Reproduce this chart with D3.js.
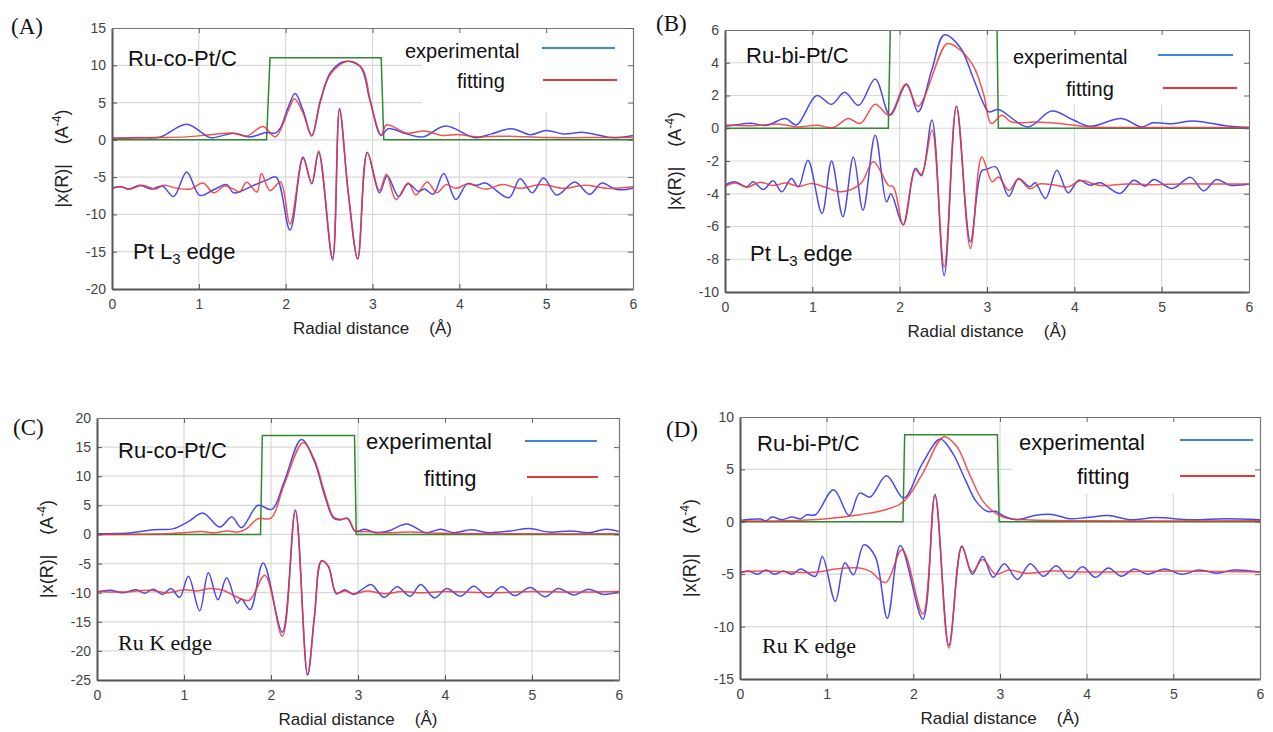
<!DOCTYPE html>
<html>
<head>
<meta charset="utf-8">
<script src="https://cdn.jsdelivr.net/npm/d3@7"></script>
<style>
  body { margin: 0; background: #fff; }
  svg { display: block; }
  text { font-family: "Liberation Sans", Arial, sans-serif; }
</style>
</head>
<body>
<svg id="chart" width="1273" height="732"></svg>
<script>
  // ---- shared ticks ----
  const xTicks = [0, 1, 2, 3, 4, 5, 6];
  const aYTicks = [15, 10, 5, 0, -5, -10, -15, -20];
  const bYTicks = [6, 4, 2, 0, -2, -4, -6, -8, -10];
  const cYTicks = [20, 15, 10, 5, 0, -5, -10, -15, -20, -25];
  const dYTicks = [10, 5, 0, -5, -10, -15];

  // ---- (A) Ru-co-Pt/C, Pt L3 edge ----  [R (Å), |χ(R)|]
  const aUpperExp = [[0,0.2],[0.3,0.3],[0.55,0.35],[0.86,2.1],[1.13,0.3],[1.25,0.5],[1.4,0.9],[1.59,0.4],[1.78,1.0],[1.88,0.9],[1.94,1.6],[2.03,4.4],[2.11,6.2],[2.2,3.95],[2.3,0.6],[2.4,5.3],[2.52,9.1],[2.68,10.5],[2.86,9.8],[2.97,5.3],[3.1,0.6],[3.18,1.5],[3.39,0.8],[3.58,0.4],[3.84,1.85],[4.18,0.3],[4.37,0.8],[4.6,1.5],[4.82,0.7],[5.0,1.27],[5.2,0.8],[5.43,1.0],[5.77,0.3],[6.0,0.6]];
  const aUpperFit = [[0,0.2],[0.5,0.3],[0.86,0.4],[1.13,0.7],[1.4,0.9],[1.55,0.5],[1.74,1.8],[1.88,0.4],[2.03,3.9],[2.1,5.5],[2.2,3.6],[2.3,0.5],[2.4,5.1],[2.52,8.9],[2.72,10.55],[2.88,9.6],[2.98,5.0],[3.1,0.6],[3.16,2.0],[3.4,0.9],[3.6,1.2],[3.8,0.6],[4.0,0.7],[4.2,0.4],[4.5,0.5],[5.0,0.3],[5.5,0.3],[6.0,0.3]];
  const aLowerExp = [[0,-6.5],[0.1,-6.3],[0.2,-6.6],[0.32,-6.1],[0.45,-6.6],[0.58,-6.2],[0.71,-7.6],[0.86,-4.3],[1.01,-7.45],[1.17,-6.7],[1.32,-6.0],[1.4,-7.1],[1.63,-6.1],[1.78,-5.4],[1.89,-5.0],[2.05,-12.1],[2.2,-2.3],[2.3,-5.9],[2.38,-1.7],[2.54,-16.1],[2.62,4.2],[2.72,-7],[2.83,-15.9],[2.94,-1.7],[3.08,-7.1],[3.17,-4.8],[3.3,-7.6],[3.41,-5.9],[3.53,-6.9],[3.6,-6.6],[3.7,-7.3],[3.82,-4.5],[3.96,-8.0],[4.09,-5.9],[4.2,-6.1],[4.3,-5.8],[4.57,-7.75],[4.7,-5.2],[4.84,-7.1],[4.97,-5.1],[5.12,-7.4],[5.33,-5.65],[5.5,-7.3],[5.64,-5.8],[5.78,-6.55],[5.9,-6.7],[6.0,-6.5]];
  const aLowerFit = [[0,-6.5],[0.1,-6.3],[0.2,-6.6],[0.35,-6.1],[0.5,-6.6],[0.6,-6.1],[0.75,-6.5],[0.9,-6.6],[1.05,-5.8],[1.17,-7.1],[1.3,-6.2],[1.4,-6.6],[1.47,-7.0],[1.55,-5.7],[1.67,-7.0],[1.72,-4.5],[1.82,-6.8],[1.94,-5.65],[2.05,-11.3],[2.2,-2.5],[2.3,-5.8],[2.38,-1.5],[2.54,-15.8],[2.62,4.0],[2.72,-7],[2.83,-16.0],[2.94,-1.7],[3.08,-6.8],[3.16,-4.6],[3.27,-8.0],[3.41,-5.8],[3.5,-7.4],[3.63,-5.65],[3.74,-7.1],[3.85,-6.0],[3.96,-6.5],[4.1,-5.9],[4.3,-6.6],[4.5,-6.0],[4.7,-6.5],[4.95,-6.0],[5.2,-6.5],[5.45,-6.1],[5.7,-6.5],[6.0,-6.3]];
  const aWindow = [[0,0],[1.78,0],[1.82,11],[3.1,11],[3.13,0],[6,0]];

  // ---- (B) Ru-bi-Pt/C, Pt L3 edge ----
  const bUpperExp = [[0,0.12],[0.12,0.2],[0.29,0.3],[0.48,0.18],[0.69,0.6],[0.82,0.2],[1.05,2.0],[1.22,1.46],[1.37,2.2],[1.53,1.4],[1.72,3.0],[1.89,0.8],[2.08,2.7],[2.21,1.0],[2.37,3.6],[2.51,5.7],[2.69,4.96],[2.84,3.1],[2.96,1.5],[3.02,1.0],[3.13,1.14],[3.47,0.08],[3.74,1.05],[3.99,0.5],[4.18,0.12],[4.54,0.6],[4.77,0.08],[4.9,0.33],[5.13,0.28],[5.36,0.45],[5.78,0.12],[6.0,0.05]];
  const bUpperFit = [[0,0.2],[0.3,0.15],[0.63,0.25],[0.82,0.08],[1.05,0.18],[1.24,0.04],[1.41,0.6],[1.55,0.29],[1.72,1.46],[1.88,0.8],[2.07,2.68],[2.21,1.34],[2.54,5.16],[2.65,4.96],[2.84,3.84],[2.96,2.1],[3.05,0.29],[3.17,0.79],[3.28,0.38],[3.56,0.38],[3.8,0.3],[4.2,0.08],[5,0.05],[6,0.05]];
  const bLowerExp = [[0,-3.48],[0.11,-3.27],[0.25,-3.57],[0.32,-3.27],[0.44,-3.74],[0.55,-3.21],[0.65,-3.88],[0.76,-3.07],[0.84,-3.58],[0.95,-1.95],[1.11,-5.2],[1.22,-2.0],[1.35,-5.4],[1.47,-1.75],[1.58,-5.0],[1.72,-0.43],[1.85,-4.5],[1.9,-4.0],[2.04,-5.9],[2.18,-2.45],[2.25,-2.9],[2.37,0.5],[2.51,-9.0],[2.65,1.34],[2.81,-6.93],[2.94,-2.6],[3.0,-2.5],[3.1,-2.36],[3.25,-4.15],[3.36,-3.07],[3.49,-3.58],[3.55,-3.33],[3.67,-4.29],[3.8,-2.56],[3.93,-3.94],[4.05,-3.17],[4.18,-3.48],[4.3,-3.33],[4.52,-3.98],[4.68,-3.17],[4.81,-3.54],[4.91,-3.13],[5.12,-3.68],[5.33,-3.0],[5.48,-3.82],[5.63,-3.13],[5.78,-3.48],[6.0,-3.41]];
  const bLowerFit = [[0,-3.54],[0.12,-3.35],[0.25,-3.6],[0.4,-3.3],[0.55,-3.5],[0.7,-3.35],[0.85,-3.55],[0.99,-3.37],[1.15,-3.6],[1.33,-3.88],[1.55,-3.4],[1.7,-2.05],[1.87,-3.48],[1.93,-3.6],[2.04,-5.9],[2.18,-2.56],[2.25,-2.8],[2.37,-0.12],[2.51,-8.46],[2.65,1.34],[2.81,-7.34],[2.94,-1.75],[3.06,-3.27],[3.13,-2.97],[3.25,-3.8],[3.36,-3.1],[3.49,-3.7],[3.6,-3.4],[3.75,-3.45],[3.93,-3.58],[4.07,-3.2],[4.3,-3.5],[4.6,-3.4],[4.9,-3.45],[5.2,-3.4],[5.6,-3.4],[6.0,-3.4]];
  const bWindow = [[0,0],[1.87,0],[1.9,8],[3.11,8],[3.13,0],[6,0]];

  // ---- (C) Ru-co-Pt/C, Ru K edge ----
  const cUpperExp = [[0,0.1],[0.4,0.3],[0.65,0.8],[0.88,1.0],[1.05,2.2],[1.22,3.66],[1.41,1.26],[1.55,2.98],[1.66,1.15],[1.85,5.0],[2.01,4.3],[2.15,9],[2.35,16.3],[2.5,12.5],[2.62,6.5],[2.72,2.8],[2.8,2.5],[2.88,2.8],[2.97,0.5],[3.08,0.9],[3.2,0.3],[3.35,0.6],[3.56,1.8],[3.78,0.3],[3.95,0.9],[4.1,0.3],[4.3,0.8],[4.5,0.3],[4.75,0.6],[4.97,1.0],[5.2,0.4],[5.45,0.6],[5.65,0.3],[5.85,0.9],[6.0,0.5]];
  const cUpperFit = [[0,0],[0.8,0.1],[1.0,0.3],[1.2,0.5],[1.35,0.3],[1.5,0.6],[1.62,0.4],[1.72,1.0],[1.85,2.7],[2.0,2.8],[2.15,8.5],[2.37,15.8],[2.5,12.8],[2.62,7],[2.72,3.0],[2.8,2.6],[2.88,2.7],[2.97,0.6],[3.1,0.5],[3.3,0.3],[3.6,0.4],[4.0,0.2],[5,0.1],[6,0.1]];
  const cLowerExp = [[0,-9.9],[0.15,-9.6],[0.3,-10.0],[0.45,-9.5],[0.55,-10.1],[0.65,-9.4],[0.75,-10.3],[0.85,-9.3],[0.95,-10.8],[1.05,-7.2],[1.18,-13.1],[1.28,-6.6],[1.39,-11.2],[1.49,-7.45],[1.61,-11.8],[1.66,-11.1],[1.76,-12.9],[1.91,-4.9],[2.13,-16.8],[2.28,4.2],[2.42,-24.2],[2.5,-14],[2.58,-4.6],[2.66,-5.5],[2.75,-10.2],[2.85,-9.5],[2.95,-10.3],[3.05,-9.4],[3.15,-8.6],[3.3,-10.8],[3.45,-9.0],[3.6,-10.6],[3.72,-8.6],[3.88,-10.9],[4.02,-9.3],[4.18,-10.6],[4.33,-8.9],[4.5,-10.8],[4.65,-9.0],[4.8,-10.5],[4.98,-9.1],[5.15,-10.7],[5.3,-9.3],[5.48,-10.4],[5.65,-9.4],[5.82,-10.3],[6.0,-9.8]];
  const cLowerFit = [[0,-9.8],[0.3,-9.9],[0.6,-9.6],[0.8,-10.0],[1.0,-9.5],[1.15,-9.7],[1.3,-9.3],[1.45,-9.6],[1.6,-10.7],[1.75,-11.3],[1.93,-7.0],[2.13,-17.5],[2.28,4.0],[2.42,-24.0],[2.5,-14],[2.58,-4.5],[2.66,-5.5],[2.75,-10.0],[2.85,-9.7],[2.95,-10.2],[3.1,-9.7],[3.3,-10.2],[3.5,-9.8],[3.7,-10.0],[4,-9.8],[4.5,-10.0],[5,-9.8],[5.5,-9.9],[6,-9.8]];
  const cWindow = [[0,0],[1.88,0],[1.9,17],[2.96,17],[2.98,0],[6,0]];

  // ---- (D) Ru-bi-Pt/C, Ru K edge ----
  const dUpperExp = [[0,0.13],[0.23,0.26],[0.3,0.1],[0.37,0.45],[0.48,0.2],[0.6,0.45],[0.7,0.3],[0.77,0.67],[0.87,0.67],[1.08,3.05],[1.26,0.6],[1.38,2.74],[1.5,2.36],[1.69,4.39],[1.89,2.26],[2.1,5.5],[2.31,7.9],[2.45,6.6],[2.6,4.0],[2.72,2.0],[2.85,1.0],[2.95,1.0],[3.05,0.5],[3.2,0.2],[3.4,0.6],[3.6,0.7],[3.8,0.3],[4.0,0.4],[4.25,0.6],[4.5,0.2],[4.8,0.4],[5.2,0.2],[5.6,0.3],[6,0.2]];
  const dUpperFit = [[0,0.1],[0.5,0.1],[1.0,0.3],[1.4,0.7],[1.7,1.2],[1.89,1.94],[2.1,4.5],[2.35,8.1],[2.5,7.2],[2.65,4.5],[2.8,2.0],[2.92,1.0],[3.05,0.4],[3.3,0.2],[4,0.1],[6,0.1]];
  const dLowerExp = [[0,-4.9],[0.1,-4.7],[0.2,-5.0],[0.3,-4.6],[0.4,-5.0],[0.5,-4.7],[0.6,-5.0],[0.7,-4.5],[0.87,-5.2],[0.95,-3.3],[1.1,-7.6],[1.21,-3.9],[1.31,-5.06],[1.43,-2.2],[1.56,-3.3],[1.7,-9.2],[1.85,-2.26],[2.11,-9.3],[2.25,2.6],[2.41,-11.8],[2.56,-2.3],[2.68,-5.0],[2.8,-3.3],[2.92,-5.3],[3.05,-4.0],[3.2,-5.5],[3.35,-4.0],[3.5,-5.2],[3.65,-4.2],[3.8,-5.4],[3.95,-4.3],[4.1,-5.3],[4.25,-4.4],[4.4,-5.2],[4.55,-4.5],[4.7,-5.0],[4.9,-4.5],[5.1,-5.0],[5.3,-4.6],[5.5,-4.9],[5.7,-4.6],[6,-4.8]];
  const dLowerFit = [[0,-4.8],[0.3,-4.7],[0.6,-4.8],[0.9,-4.8],[1.1,-4.5],[1.38,-4.4],[1.5,-4.7],[1.68,-5.8],[1.87,-2.67],[2.11,-8.8],[2.25,2.5],[2.41,-12.05],[2.56,-2.4],[2.68,-4.8],[2.8,-3.6],[2.95,-5.0],[3.1,-4.6],[3.3,-4.9],[3.6,-4.7],[4,-4.8],[5,-4.7],[6,-4.8]];
  const dWindow = [[0,0],[1.88,0],[1.9,8.3],[2.97,8.3],[2.99,0],[6,0]];

  // ---- panel layout ----
  const panels = [
    { tag: '(A)', tagX: 11, tagY: 34, left: 112, top: 28, right: 633, bottom: 289,
      yDomain: [-20, 15], yTicks: aYTicks, sample: 'Ru-co-Pt/C', edge: 'Pt',
      sampleXY: [128, 66], edgeXY: [133, 259],
      legend: { size: 20, expX: 405, expY: 58, expLine: [542, 615, 48], fitX: 457, fitY: 88, fitLine: [543, 617, 80], box: [422, 111] },
      curves: [aUpperExp, aUpperFit, aLowerExp, aLowerFit], win: aWindow },
    { tag: '(B)', tagX: 656, tagY: 31, left: 725, top: 30, right: 1249, bottom: 292,
      yDomain: [-10, 6], yTicks: bYTicks, sample: 'Ru-bi-Pt/C', edge: 'Pt',
      sampleXY: [746, 63], edgeXY: [750, 261],
      legend: { size: 20, expX: 1013, expY: 64, expLine: [1158, 1233, 55], fitX: 1066, fitY: 96, fitLine: [1163, 1237, 88], box: [1007, 104] },
      curves: [bUpperExp, bUpperFit, bLowerExp, bLowerFit], win: bWindow },
    { tag: '(C)', tagX: 13, tagY: 435, left: 97, top: 418, right: 619, bottom: 680,
      yDomain: [-25, 20], yTicks: cYTicks, sample: 'Ru-co-Pt/C', edge: 'Ru',
      sampleXY: [118, 458], edgeXY: [118, 650],
      legend: { size: 22, expX: 366, expY: 449, expLine: [525, 597, 441], fitX: 424, fitY: 486, fitLine: [527, 598, 477], box: [360, 495] },
      curves: [cUpperExp, cUpperFit, cLowerExp, cLowerFit], win: cWindow },
    { tag: '(D)', tagX: 666, tagY: 437, left: 740, top: 417, right: 1260, bottom: 679,
      yDomain: [-15, 10], yTicks: dYTicks, sample: 'Ru-bi-Pt/C', edge: 'Ru',
      sampleXY: [757, 451], edgeXY: [762, 653],
      legend: { size: 22, expX: 1019, expY: 450, expLine: [1180, 1253, 440], fitX: 1077, fitY: 484, fitLine: [1180, 1255, 476], box: [1012, 493] },
      curves: [dUpperExp, dUpperFit, dLowerExp, dLowerFit], win: dWindow }
  ];

  const svg = d3.select('#chart');
  const curveColors = ['#4a4aee', '#ee3535', '#4a4aee', '#ee3535'];

  panels.forEach((p, i) => {
    const x = d3.scaleLinear().domain([0, 6]).range([p.left, p.right]);
    const y = d3.scaleLinear().domain(p.yDomain).range([p.bottom, p.top]);
    const g = svg.append('g');

    // grid
    g.selectAll('.vg').data(xTicks.slice(1, -1)).enter().append('line')
      .attr('x1', d => x(d)).attr('x2', d => x(d))
      .attr('y1', p.top).attr('y2', p.bottom)
      .attr('stroke', '#d8d8d8').attr('stroke-width', 1.2);
    g.selectAll('.hg').data(p.yTicks.slice(1, -1)).enter().append('line')
      .attr('x1', p.left).attr('x2', p.right)
      .attr('y1', d => y(d)).attr('y2', d => y(d))
      .attr('stroke', '#d8d8d8').attr('stroke-width', 1.2);

    // white box behind the legend
    g.append('rect')
      .attr('x', p.legend.box[0]).attr('y', p.top + 1)
      .attr('width', p.right - p.legend.box[0] - 1).attr('height', p.legend.box[1] - p.top)
      .attr('fill', '#fff');

    // curves, clipped to the plot area
    const clipId = 'clip' + i;
    g.append('clipPath').attr('id', clipId).append('rect')
      .attr('x', p.left).attr('y', p.top)
      .attr('width', p.right - p.left).attr('height', p.bottom - p.top);
    const plot = g.append('g').attr('clip-path', `url(#${clipId})`);

    const smooth = d3.line().x(d => x(d[0])).y(d => y(d[1])).curve(d3.curveCatmullRom.alpha(0.5));
    const straight = d3.line().x(d => x(d[0])).y(d => y(d[1]));

    plot.append('path').attr('d', straight(p.win))
      .attr('fill', 'none').attr('stroke', '#2f8a2f').attr('stroke-width', 1.5);
    p.curves.forEach((c, k) => {
      plot.append('path').attr('d', smooth(c))
        .attr('fill', 'none').attr('stroke', curveColors[k])
        .attr('stroke-width', 1.5).attr('stroke-opacity', k % 2 ? 0.85 : 1);
    });

    // axes (ticks point inward)
    const fmt = d => d;
    g.append('g').attr('transform', `translate(${p.left},0)`)
      .call(d3.axisLeft(y).tickValues(p.yTicks).tickSizeInner(-5).tickSizeOuter(0).tickPadding(6).tickFormat(fmt))
      .call(a => a.select('.domain').attr('stroke', '#555').attr('stroke-width', 2))
      .call(a => a.selectAll('line').attr('stroke', '#555'))
      .call(a => a.selectAll('text').attr('fill', '#444').style('font-size', '14px').style('font-family', '"Liberation Sans", Arial, sans-serif'));
    g.append('g').attr('transform', `translate(0,${p.bottom})`)
      .call(d3.axisBottom(x).tickValues(xTicks).tickSizeInner(-5).tickSizeOuter(0).tickPadding(10).tickFormat(fmt))
      .call(a => a.select('.domain').attr('stroke', '#555').attr('stroke-width', 2))
      .call(a => a.selectAll('line').attr('stroke', '#555'))
      .call(a => a.selectAll('text').attr('fill', '#444').style('font-size', '14px').style('font-family', '"Liberation Sans", Arial, sans-serif'));
    g.append('g').attr('transform', `translate(0,${p.top})`)
      .call(d3.axisTop(x).tickValues(xTicks).tickSizeInner(-5).tickSizeOuter(0).tickFormat(''))
      .call(a => a.select('.domain').attr('stroke', '#777').attr('stroke-width', 1.2))
      .call(a => a.selectAll('line').attr('stroke', '#666'));
    g.append('g').attr('transform', `translate(${p.right},0)`)
      .call(d3.axisRight(y).tickValues(p.yTicks).tickSizeInner(-5).tickSizeOuter(0).tickFormat(''))
      .call(a => a.select('.domain').attr('stroke', '#777').attr('stroke-width', 1.2))
      .call(a => a.selectAll('line').attr('stroke', '#666'));

    // axis titles
    const xt = g.append('text')
      .attr('x', (p.left + p.right) / 2).attr('y', p.bottom + 45)
      .attr('text-anchor', 'middle').style('font-size', '17px').attr('fill', '#222');
    xt.append('tspan').text('Radial distance');
    xt.append('tspan').attr('dx', 20).text('(Å)');

    const yt = g.append('text')
      .attr('transform', `translate(${p.left - 44},${(p.top + p.bottom) / 2}) rotate(-90)`)
      .attr('text-anchor', 'middle').style('font-size', '18px').attr('fill', '#222');
    yt.append('tspan').text('|x(R)|');
    yt.append('tspan').attr('dx', 20).text('(A');
    yt.append('tspan').attr('dy', -7).style('font-size', '12px').text('-4');
    yt.append('tspan').attr('dy', 7).text(')');

    // panel tag
    g.append('text').attr('x', p.tagX).attr('y', p.tagY)
      .style('font-family', '"Liberation Serif", "Times New Roman", serif')
      .style('font-size', '23px').attr('fill', '#111').text(p.tag);

    // sample name
    g.append('text').attr('x', p.sampleXY[0]).attr('y', p.sampleXY[1])
      .style('font-size', '22px').attr('fill', '#111').text(p.sample);

    // edge label
    if (p.edge === 'Pt') {
      const e = g.append('text').attr('x', p.edgeXY[0]).attr('y', p.edgeXY[1])
        .style('font-size', '22px').attr('fill', '#111');
      e.append('tspan').text('Pt L');
      e.append('tspan').attr('dy', 5).style('font-size', '15px').text('3');
      e.append('tspan').attr('dy', -5).text(' edge');
    } else {
      g.append('text').attr('x', p.edgeXY[0]).attr('y', p.edgeXY[1])
        .style('font-family', '"Liberation Serif", "Times New Roman", serif')
        .style('font-size', '22px').attr('fill', '#111').text('Ru K edge');
    }

    // legend
    const L = p.legend;
    g.append('text').attr('x', L.expX).attr('y', L.expY)
      .style('font-size', L.size + 'px').attr('fill', '#111').text('experimental');
    g.append('line').attr('x1', L.expLine[0]).attr('x2', L.expLine[1])
      .attr('y1', L.expLine[2]).attr('y2', L.expLine[2])
      .attr('stroke', '#3f86d8').attr('stroke-width', 2);
    g.append('text').attr('x', L.fitX).attr('y', L.fitY)
      .style('font-size', L.size + 'px').attr('fill', '#111').text('fitting');
    g.append('line').attr('x1', L.fitLine[0]).attr('x2', L.fitLine[1])
      .attr('y1', L.fitLine[2]).attr('y2', L.fitLine[2])
      .attr('stroke', '#e03a3a').attr('stroke-width', 2);
  });
</script>
</body>
</html>
